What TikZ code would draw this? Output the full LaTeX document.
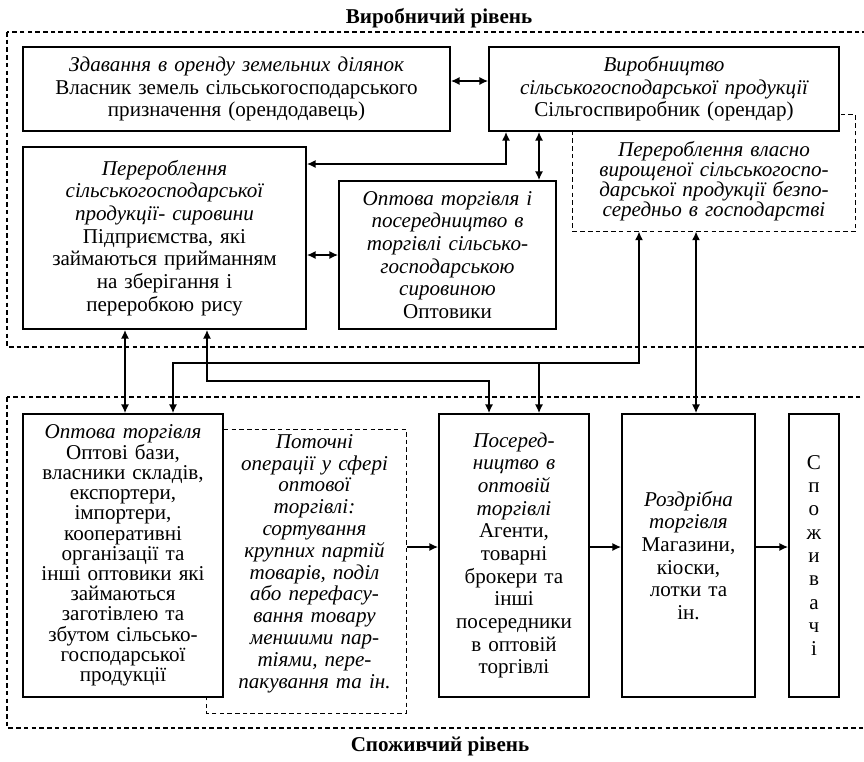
\documentclass[tikz,border=0pt]{standalone}
\usepackage{fontspec}
\setmainfont{Liberation Serif}
\usepackage{tikz}
\usetikzlibrary{arrows.meta}

\begin{document}
\begin{tikzpicture}[x=0.02cm,y=-0.02cm,>={Latex[length=5pt,width=4.6pt]},
  blok/.style={draw, line width=0.9pt, fill=white, align=center, inner sep=1pt,
    font=\fontsize{12}{12.9}\selectfont},
  tekst/.style={align=center, inner sep=1pt, font=\fontsize{12}{12.9}\selectfont},
  ramka/.style={line width=0.6pt, dash pattern=on 2.6pt off 1.8pt},
  lnk/.style={line width=1pt}]
 \useasboundingbox (0,0) rectangle (864,761);
 % levels
 \draw[ramka] (7,32) rectangle (868,347);
 \draw[ramka] (7,397) rectangle (868,728);
 \node[font=\fontsize{12}{13}\selectfont\bfseries] (vyr) at (439,18) {Виробничий рівень};
 \node[font=\fontsize{12}{13}\selectfont\bfseries] (spo) at (440,746) {Споживчий рівень};

 % production level
 \node[tekst, text width=5.5cm, minimum width=5.64cm, minimum height=2cm,
   font=\fontsize{12}{11.4}\selectfont] (E) at (714,181)
   {\itshape Перероблення власно\\ вирощеної сільськогоспо-\\ дарської продукції безпо-\\ середньо в господарстві};
 \draw[ramka] (E.north west) |- (E.south east) |- ([yshift=0.32cm]E.north east) -- +(-16,0);
 \node[blok, text width=8.4cm, minimum width=8.54cm, minimum height=1.68cm] (A) at (236.5,89)
   {\itshape Здавання в оренду земельних ділянок\\ \upshape Власник земель сільськогосподарського\\ призначення (орендодавець)};
 \node[blok, text width=6.9cm, minimum width=7cm, minimum height=1.68cm] (B) at (664,89)
   {\itshape Виробництво\\ сільськогосподарської продукції\\ \upshape Сільгоспвиробник (орендар)};
 \node[blok, text width=5.5cm, minimum width=5.66cm, minimum height=3.64cm] (C) at (164.5,238)
   {\itshape Перероблення\\ сільськогосподарської\\ продукції- сировини\\ \upshape Підприємства, які\\ займаються прийманням\\ на зберігання і\\ переробкою рису};
 \node[blok, text width=4.2cm, minimum width=4.34cm, minimum height=2.96cm] (D) at (447.5,255)
   {\itshape Оптова торгівля і\\ посередництво в\\ торгівлі сільсько-\\ господарською\\ сировиною\\ \upshape Оптовики};

 % consumer level
 \node[tekst, text width=3.6cm, minimum width=3.66cm, minimum height=5.98cm,
   font=\fontsize{12}{12.4}\selectfont] (G) at (314.5,563.5)
   {\itshape Поточні\\ операції у сфері\\ оптової\\ торгівлі:\\ сортування\\ крупних партій\\ товарів, поділ\\ або перефасу-\\ вання товару\\ меншими пар-\\ тіями, пере-\\ пакування та ін.};
 \node[blok, text width=3.9cm, minimum width=4cm, minimum height=5.66cm,
   font=\fontsize{12}{11.5}\selectfont] (F) at (123,555.5)
   {\itshape Оптова торгівля\\ \upshape Оптові бази,\\ власники складів,\\ експортери,\\ імпортери,\\ кооперативні\\ організації та\\ інші оптовики які\\ займаються\\ заготівлею та\\ збутом сільсько-\\ господарської\\ продукції};
 \draw[ramka] (F.north east) ++(0,16) -| (G.south east) -| ([xshift=3.68cm]F.south west);
 \node[blok, text width=2.9cm, minimum width=3cm, minimum height=5.66cm] (H) at (514,555.5)
   {\itshape Посеред-\\ ництво в\\ оптовій\\ торгівлі\\ \upshape Агенти,\\ товарні\\ брокери та\\ інші\\ посередники\\ в оптовій\\ торгівлі};
 \node[blok, text width=2.55cm, minimum width=2.66cm, minimum height=5.66cm] (I) at (688.5,555.5)
   {\itshape Роздрібна\\ торгівля\\ \upshape Магазини,\\ кіоски,\\ лотки та\\ ін.};
 \node[blok, text width=0.9cm, minimum width=1cm, minimum height=5.66cm,
   font=\fontsize{12}{13.3}\selectfont] (J) at (814,555.5)
   {С\\ п\\ о\\ ж\\ и\\ в\\ а\\ ч\\ і};

 % connectors
 \coordinate (bc) at (506,164);
 \coordinate (bd) at (539,0);
 \coordinate (ei) at (696,0);
 \coordinate (s1) at (639,363);
 \coordinate (s2) at (207,381);
 \coordinate (f1) at (173,0);
 \coordinate (h1) at (539,0);
 \coordinate (h2) at (489,0);
 \coordinate (cf) at (125,0);
 \coordinate (r) at (0,547);
 \draw[lnk,<->] ([yshift=0.16cm]A.east) -- ([yshift=0.16cm]B.west);
 \draw[lnk,<->] (C.east |- bc) -| (B.south -| bc);
 \draw[lnk,<->] (B.south -| bd) -- (D.north -| bd);
 \draw[lnk,<->] (C.east |- D.west) -- (D.west);
 \draw[lnk,<->] (E.south -| ei) -- (I.north -| ei);
 \draw[lnk,<->] (E.south -| s1) |- (f1 |- s1) -- (F.north -| f1);
 \draw[lnk,->] (h1 |- s1) -- (H.north -| h1);
 \draw[lnk,<->] (C.south -| s2) |- (h2 |- s2) -- (H.north -| h2);
 \draw[lnk,<->] (C.south -| cf) -- (F.north -| cf);
 \draw[lnk,->] (G.east |- r) -- (H.west |- r);
 \draw[lnk,->] (H.east |- r) -- (I.west |- r);
 \draw[lnk,->] (I.east |- r) -- (J.west |- r);

\end{tikzpicture}
\end{document}
